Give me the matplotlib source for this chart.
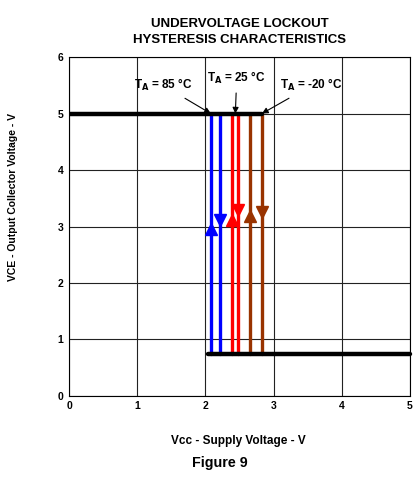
import matplotlib.pyplot as plt

# hysteresis edges per temperature (Vcc where output switches)
temps = ['85', '25', '-20']
colors = ['#0000ff', '#ff0000', '#993300']
vcc_up = [2.08, 2.39, 2.65]      # rising edge
vcc_down = [2.21, 2.48, 2.83]    # falling edge
arrow_up_y = [2.96, 3.12, 3.19]
arrow_down_y = [3.12, 3.30, 3.26]

v_high = 5.0
v_low = 0.74
low_start = 2.04

label_pos = [(1.38, 5.5), (2.46, 5.63), (3.56, 5.5)]
label_tip = [(2.08, 5.0), (2.44, 5.0), (2.83, 5.0)]

plt.rcParams['font.family'] = ['Liberation Sans', 'DejaVu Sans']

fig = plt.figure(figsize=(4.14, 4.84), dpi=100)
ax = fig.add_axes([0.1667, 0.182, 0.8233, 0.70])

for i in range(len(temps)):
    ax.plot([vcc_up[i], vcc_up[i]], [v_low, v_high], color=colors[i], lw=2.4,
            solid_capstyle='round', zorder=3)
    ax.plot([vcc_down[i], vcc_down[i]], [v_low, v_high], color=colors[i], lw=2.4,
            solid_capstyle='round', zorder=3)
    ax.plot(vcc_up[i], arrow_up_y[i], marker='^', ms=8, color=colors[i], zorder=4)
    ax.plot(vcc_down[i], arrow_down_y[i], marker='v', ms=8, color=colors[i], zorder=4)

ax.plot([0, max(vcc_down)], [v_high, v_high], color='black', lw=3.2, zorder=5,
        solid_capstyle='round')
ax.plot([low_start, 5.0], [v_low, v_low], color='black', lw=3.2, zorder=5,
        solid_capstyle='round', clip_on=False)

for i in range(len(temps)):
    ax.annotate('T$_\\mathbf{A}$ = ' + temps[i] + ' °C', xy=label_tip[i], xytext=label_pos[i],
                ha='center', va='center', fontsize=8.5, fontweight='bold',
                arrowprops=dict(arrowstyle='-|>', color='black', lw=0.8,
                                mutation_scale=9, shrinkA=3, shrinkB=0),
                zorder=6)

ax.set_xlim(0, 5)
ax.set_ylim(0, 6)
ax.set_xticks(range(6))
ax.set_yticks(range(7))
ax.tick_params(length=0, labelsize=7.5, pad=4)
for lab in ax.get_xticklabels() + ax.get_yticklabels():
    lab.set_fontweight('bold')
ax.grid(True, color='#222222', lw=0.8)
for s in ax.spines.values():
    s.set_linewidth(0.8)

ax.set_title('UNDERVOLTAGE LOCKOUT\nHYSTERESIS CHARACTERISTICS', fontsize=9.5,
             fontweight='bold', pad=10, linespacing=1.45)
ax.set_xlabel('Vcc - Supply Voltage - V', fontsize=8.5, fontweight='bold')
ax.xaxis.set_label_coords(0.496, -0.115)
ax.set_ylabel('VCE - Output Collector Voltage - V', fontsize=7.5, fontweight='bold')
ax.yaxis.set_label_coords(-0.15, 0.587)

fig.text(0.531, 0.043, 'Figure 9', ha='center', va='center', fontsize=10.3, fontweight='bold')

fig.savefig('out.png', dpi=100)
